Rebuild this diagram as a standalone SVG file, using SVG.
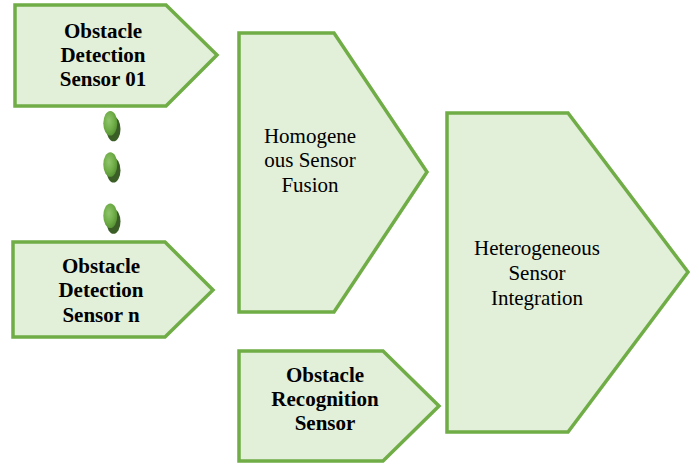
<svg xmlns="http://www.w3.org/2000/svg" width="697" height="466" viewBox="0 0 697 466">
<style>
.shape{fill:#E2EFD9;stroke:#70AD47;stroke-width:3.5;stroke-linejoin:miter}
.t{font-family:"Liberation Serif","Times New Roman",serif;font-size:21px;fill:#000;text-anchor:middle}
.b{font-weight:bold}
.shadow{fill:#3B5E26}
.dot{fill:url(#dotg)}
</style>
<defs>
<radialGradient id="dotg" cx="0.4" cy="0.4" r="0.65">
<stop offset="0" stop-color="#8FC56C"/>
<stop offset="0.6" stop-color="#6FAD47"/>
<stop offset="1" stop-color="#558F33"/>
</radialGradient>
</defs>
<rect width="697" height="466" fill="#fff"/>
<g id="sensor01">
<polygon class="shape" points="15,5 166,5 217,55 166,106 15,106"/>
<text class="t b"><tspan x="103" y="38">Obstacle</tspan><tspan x="103" y="62">Detection</tspan><tspan x="103" y="86">Sensor 01</tspan></text>
</g>
<g id="dots">
<ellipse class="shadow" cx="113.5" cy="129" rx="7" ry="12.3"/>
<ellipse class="dot" cx="110.3" cy="123.3" rx="7" ry="12.3"/>
<ellipse class="shadow" cx="113.5" cy="170.2" rx="7" ry="12.3"/>
<ellipse class="dot" cx="110.3" cy="164.5" rx="7" ry="12.3"/>
<ellipse class="shadow" cx="113.5" cy="221.5" rx="7" ry="12.3"/>
<ellipse class="dot" cx="110.3" cy="215.8" rx="7" ry="12.3"/>
</g>
<g id="sensorn">
<polygon class="shape" points="13,242 165,242 213,290 165,337 13,337"/>
<text class="t b"><tspan x="101" y="273">Obstacle</tspan><tspan x="101" y="297">Detection</tspan><tspan x="101" y="322">Sensor n</tspan></text>
</g>
<g id="homogeneous">
<polygon class="shape" points="239,33 334,33 427,172 334,312 239,312"/>
<text class="t"><tspan x="310" y="143">Homogene</tspan><tspan x="310" y="167">ous Sensor</tspan><tspan x="310" y="192">Fusion</tspan></text>
</g>
<g id="recognition">
<polygon class="shape" points="239,351 383,351 439,406 383,461 239,461"/>
<text class="t b"><tspan x="325" y="382">Obstacle</tspan><tspan x="325" y="406">Recognition</tspan><tspan x="325" y="430">Sensor</tspan></text>
</g>
<g id="heterogeneous">
<polygon class="shape" points="447,113 568,113 688,272 568,432 447,432"/>
<text class="t"><tspan x="537" y="255">Heterogeneous</tspan><tspan x="537" y="280">Sensor</tspan><tspan x="537" y="305">Integration</tspan></text>
</g>
<g id="connectors"/>
</svg>
